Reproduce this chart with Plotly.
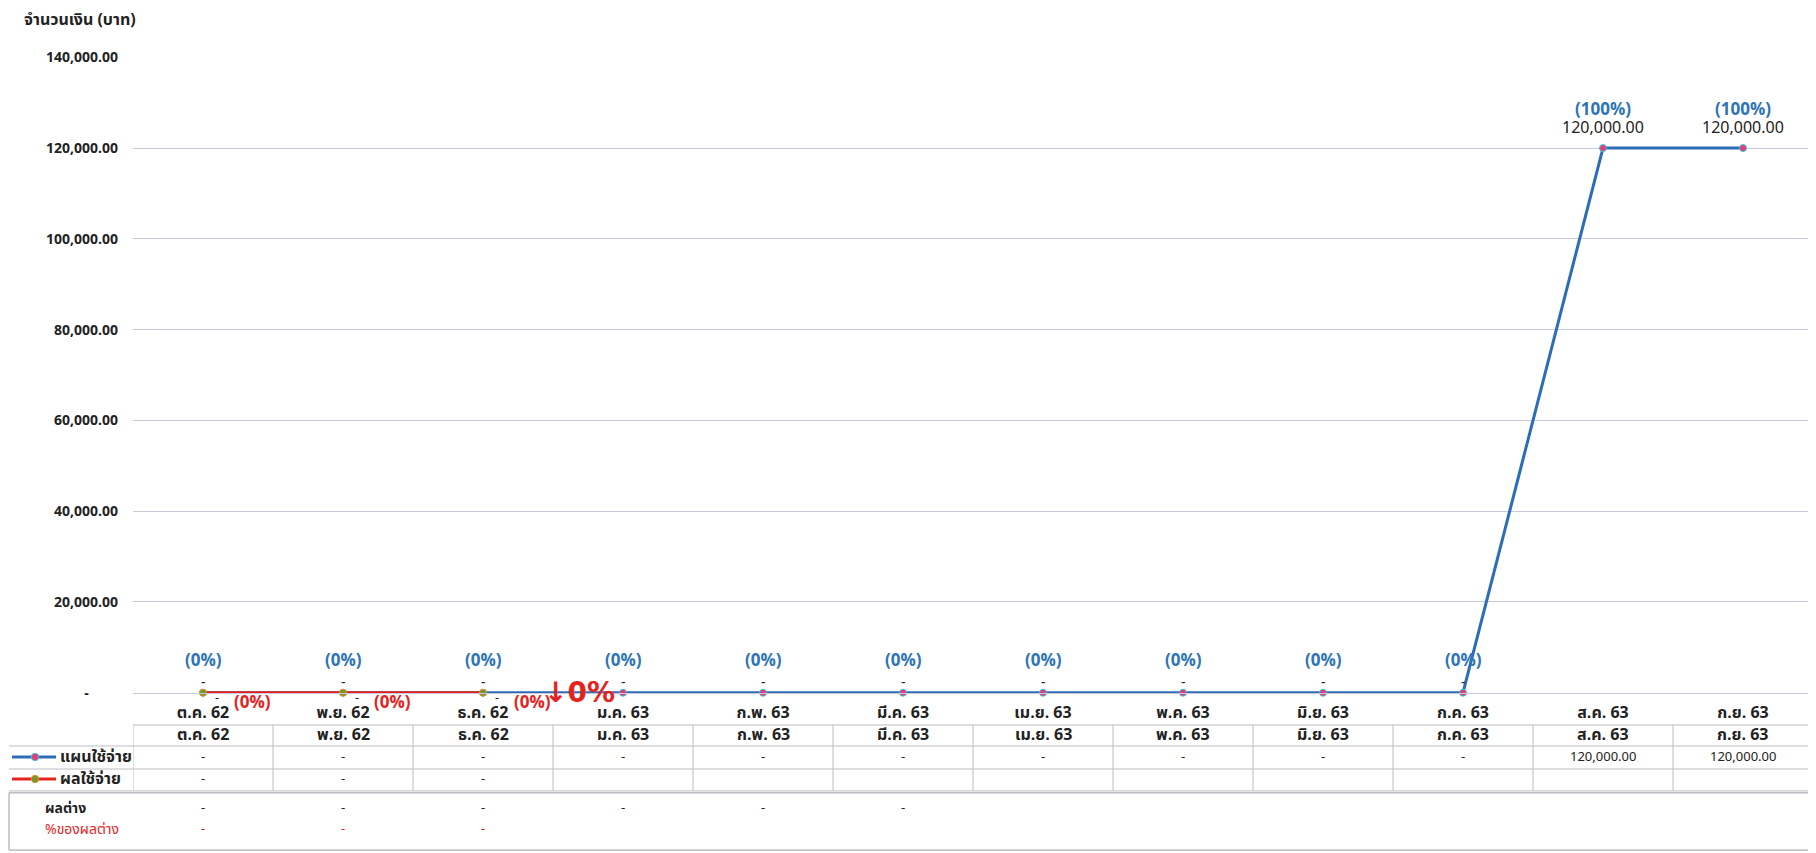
import plotly.graph_objects as go

# ---- data ----
months = ["ต.ค. 62", "พ.ย. 62", "ธ.ค. 62", "ม.ค. 63", "ก.พ. 63", "มี.ค. 63",
          "เม.ย. 63", "พ.ค. 63", "มิ.ย. 63", "ก.ค. 63", "ส.ค. 63", "ก.ย. 63"]
plan = [0, 0, 0, 0, 0, 0, 0, 0, 0, 0, 120000, 120000]
plan_pct = ["(0%)"] * 10 + ["(100%)", "(100%)"]
actual = [0, 0, 0]
actual_pct = ["(0%)", "(0%)", "(0%)"]
diff_text = ["-", "-", "-", "-", "-", "-"]
diff_pct_text = ["-", "-", "-"]
y_ticks = [0, 20000, 40000, 60000, 80000, 100000, 120000, 140000]

BLUE = "#2C6CB8"
RED = "#E5231E"
LBLUE = "#2E75B6"
GRID = "#C9CAD9"
TBL = "#BDBDC4"
FONT = "Tahoma, 'Noto Sans Thai', 'Noto Sans', sans-serif"


def money(v):
    return "-" if v == 0 else f"{v:,.2f}"


fig = go.Figure()

fig.add_trace(go.Scatter(
    x=months, y=plan, mode="lines+markers", name="แผนใช้จ่าย",
    line=dict(color=BLUE, width=3),
    marker=dict(size=7, color="#E23D78", line=dict(color="#3CC8D8", width=1)),
    cliponaxis=False))
fig.add_trace(go.Scatter(
    x=months[:len(actual)], y=actual, mode="lines+markers", name="ผลใช้จ่าย",
    line=dict(color=RED, width=3),
    marker=dict(size=7, color="#6F9A2C", line=dict(color="#F08A24", width=1)),
    cliponaxis=False))

ann = []
# labels on the plan series
for i, (m, v) in enumerate(zip(months, plan)):
    ann.append(dict(x=m, y=v, xref="x", yref="y", text=f"<b>{plan_pct[i]}</b>", showarrow=False,
                    yshift=38 if v else 32, font=dict(size=17, color=LBLUE)))
    ann.append(dict(x=m, y=v, xref="x", yref="y", text=money(v), showarrow=False,
                    yshift=20 if v else 10, font=dict(size=16 if v else 14, color="#222")))
# labels on the actual series
for i, v in enumerate(actual):
    ann.append(dict(x=months[i], y=v, xref="x", yref="y", text=money(v), showarrow=False,
                    xshift=14, yshift=-5, font=dict(size=13, color="#222")))
    ann.append(dict(x=months[i], y=v, xref="x", yref="y", text=f"<b>{actual_pct[i]}</b>",
                    showarrow=False, xshift=49, yshift=-10, font=dict(size=17, color=RED)))
# the big arrow text box
ann.append(dict(x=2.69, y=0, xref="x", yref="y", text="<b>↓0%</b>", showarrow=False,
                font=dict(size=28, color=RED, family="'DejaVu Sans', sans-serif")))

# y axis title
ann.append(dict(x=-0.066, y=1.058, xref="paper", yref="paper", text="<b>จำนวนเงิน (บาท)</b>",
                showarrow=False, xanchor="left", yanchor="middle", font=dict(size=16, color="#222")))

# ---- data table under the chart (paper y) ----
y_head, y_plan, y_act, y_diff, y_dpct = -0.0655, -0.1006, -0.1352, -0.181, -0.214
mid = dict(showarrow=False, yanchor="middle", xanchor="center")
for i, m in enumerate(months):
    ann.append(dict(x=i, y=y_head, xref="x", yref="paper", text=f"<b>{m}</b>",
                    font=dict(size=16, color="#222"), **mid))
    ann.append(dict(x=i, y=y_plan, xref="x", yref="paper", text=money(plan[i]),
                    font=dict(size=13, color="#222"), **mid))
for i, v in enumerate(actual):
    ann.append(dict(x=i, y=y_act, xref="x", yref="paper", text=money(v),
                    font=dict(size=13, color="#222"), **mid))
for i, t in enumerate(diff_text):
    ann.append(dict(x=i, y=y_diff, xref="x", yref="paper", text=t,
                    font=dict(size=13, color="#222"), **mid))
for i, t in enumerate(diff_pct_text):
    ann.append(dict(x=i, y=y_dpct, xref="x", yref="paper", text=t,
                    font=dict(size=13, color=RED), **mid))

left = dict(showarrow=False, xanchor="left", yanchor="middle", xref="paper", yref="paper")
ann.append(dict(x=-0.0446, y=y_plan, text="<b>แผนใช้จ่าย</b>", font=dict(size=16, color="#222"), **left))
ann.append(dict(x=-0.0446, y=y_act, text="<b>ผลใช้จ่าย</b>", font=dict(size=16, color="#222"), **left))
ann.append(dict(x=-0.0535, y=y_diff, text="<b>ผลต่าง</b>", font=dict(size=14, color="#222"), **left))
ann.append(dict(x=-0.0535, y=y_dpct, text="%ของผลต่าง", font=dict(size=14, color=RED), **left))

shapes = []
n = len(months)
x_left = -0.0738
# horizontal table rules
shapes.append(dict(type="line", xref="x", yref="paper", x0=-0.5, x1=n - 0.5, y0=-0.0503, y1=-0.0503,
                   line=dict(color=TBL, width=1)))
for yy in (-0.0833, -0.1195, -0.154):
    shapes.append(dict(type="line", xref="paper", yref="paper", x0=x_left, x1=1, y0=yy, y1=yy,
                       line=dict(color=TBL, width=1)))
# vertical table rules
for i in range(n + 1):
    shapes.append(dict(type="line", xref="x", yref="paper", x0=i - 0.5, x1=i - 0.5,
                       y0=-0.0503, y1=-0.154, line=dict(color=TBL, width=1)))
# box around the difference rows
shapes.append(dict(type="rect", xref="paper", yref="paper", x0=x_left, x1=1, y0=-0.157, y1=-0.247,
                   line=dict(color="#9A9AA4", width=1)))
# legend keys inside the table
for yy, lc, mc, oc in ((y_plan, BLUE, "#E23D78", "#3CC8D8"), (y_act, RED, "#6F9A2C", "#F08A24")):
    shapes.append(dict(type="line", xref="paper", yref="paper", x0=-0.072, x1=-0.0458,
                       y0=yy, y1=yy, line=dict(color=lc, width=3)))
    shapes.append(dict(type="circle", xref="paper", yref="paper", x0=-0.0605, x1=-0.0561,
                       y0=yy - 0.0058, y1=yy + 0.0058, fillcolor=mc, line=dict(color=oc, width=1)))

fig.update_layout(
    width=1808, height=845,
    margin=dict(l=125, r=3, t=49, b=160),
    plot_bgcolor="white", paper_bgcolor="white",
    showlegend=False,
    font=dict(family=FONT, color="#222"),
    annotations=ann, shapes=shapes)

fig.update_xaxes(
    type="category", range=[-0.5, n - 0.5], automargin=False,
    showgrid=False, showline=True, linecolor=GRID, linewidth=1,
    ticks="", ticklabelstandoff=5, tickfont=dict(size=16, color="#222"),
    ticktext=[f"<b>{m}</b>" for m in months], tickvals=months)
fig.update_yaxes(
    range=[-60, 140060], tickvals=y_ticks, automargin=False,
    ticktext=["<b>-</b>        "] + [f"<b>{v:,.2f}</b>" for v in y_ticks[1:]],
    tickfont=dict(size=14, color="#222"), ticklabelstandoff=14,
    showgrid=True, gridcolor=GRID, gridwidth=1, zeroline=False, ticklen=0)

fig.write_html("out.html")
